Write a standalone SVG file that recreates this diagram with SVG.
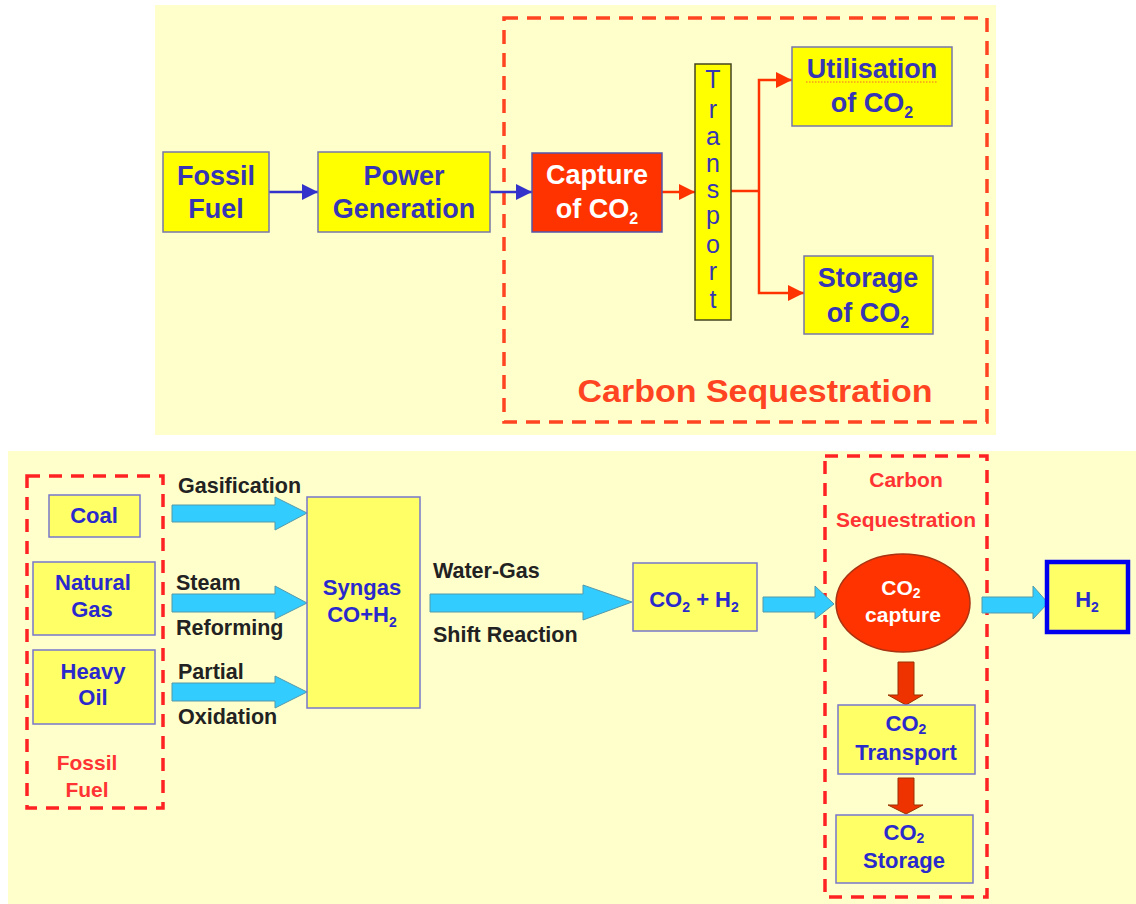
<svg xmlns="http://www.w3.org/2000/svg" width="1136" height="904" viewBox="0 0 1136 904">
<style>
.bg{fill:#ffffcc}
.ybox{fill:#ffff00;stroke:#7777aa;stroke-width:1.5}
.ybox2{fill:#ffff66;stroke:#7777cc;stroke-width:1.5}
.t{font-family:"Liberation Sans",Arial,sans-serif;font-weight:bold;text-anchor:middle}
.tb{fill:#3535b5;font-size:27px}
.tw{fill:#ffffff;font-size:27px}
.lb{fill:#2a2acc;font-size:22px}
.lw{fill:#ffffff;font-size:21px}
.lbl{font-family:"Liberation Sans",Arial,sans-serif;font-weight:bold;fill:#222222;font-size:21.5px}
.red{fill:#ff3333;font-size:21px}
.dash1{fill:none;stroke:#ff4422;stroke-width:3.5;stroke-dasharray:14,9}
.dash2{fill:none;stroke:#ff2222;stroke-width:3.5;stroke-dasharray:13,9}
.blu{fill:none;stroke:#3333cc;stroke-width:2.5}
.rl{fill:none;stroke:#ff3300;stroke-width:2.5}
.barr{fill:#33ccff;stroke:#5599aa;stroke-width:1}
.rarr{fill:#ee3300;stroke:#993300;stroke-width:1}
</style>
<defs>
<marker id="mb" viewBox="0 0 10 10" refX="10" refY="5" markerWidth="6.5" markerHeight="6.5" orient="auto" markerUnits="strokeWidth">
<path d="M0,0 L10,5 L0,10 z" fill="#3333cc"/>
</marker>
<marker id="mr" viewBox="0 0 10 10" refX="10" refY="5" markerWidth="6.5" markerHeight="6.5" orient="auto" markerUnits="strokeWidth">
<path d="M0,0 L10,5 L0,10 z" fill="#ff3300"/>
</marker>
</defs>

<!-- backgrounds -->
<rect class="bg" x="155" y="5" width="841" height="430"/>
<rect class="bg" x="8" y="451" width="1128" height="453"/>

<!-- group boxes -->
<g id="carbon-sequestration-top">
<rect class="dash1" x="504" y="18" width="483" height="404"/>
<text class="t" x="755" y="402" font-size="31" fill="#ff4422" textLength="355" lengthAdjust="spacingAndGlyphs">Carbon Sequestration</text>
</g>
<g id="fossil-fuel-group">
<rect class="dash2" x="27" y="476" width="136" height="332"/>
<text class="t red" x="87" y="770">Fossil</text>
<text class="t red" x="87" y="797">Fuel</text>
</g>
<g id="carbon-sequestration-bottom">
<rect class="dash2" x="825" y="456" width="162" height="441"/>
<text class="t red" x="906" y="487">Carbon</text>
<text class="t red" x="906" y="527">Sequestration</text>
</g>

<!-- connectors -->
<g id="connectors">
<line class="blu" x1="269" y1="192" x2="318" y2="192" marker-end="url(#mb)"/>
<line class="blu" x1="490" y1="192" x2="532" y2="192" marker-end="url(#mb)"/>
<line class="rl" x1="662" y1="192" x2="695" y2="192" marker-end="url(#mr)"/>
<polyline class="rl" points="731,191 759,191"/>
<polyline class="rl" points="759,191 759,80 792,80" marker-end="url(#mr)"/>
<polyline class="rl" points="759,191 759,293 804,293" marker-end="url(#mr)"/>
<polygon class="barr" points="172,505 275,505 275,497 307,513 275,530 275,522 172,522"/>
<polygon class="barr" points="172,594 275,594 275,586 307,603 275,619 275,612 172,612"/>
<polygon class="barr" points="172,683 275,683 275,676 307,692 275,708 275,701 172,701"/>
<polygon class="barr" points="430,594 583,594 583,585 632,602 583,620 583,612 430,612"/>
<polygon class="barr" points="763,597 815,597 815,586 834,604 815,619 815,612 763,612"/>
<polygon class="barr" points="982,597 1033,597 1033,586 1048,603 1033,619 1033,613 982,613"/>
<polygon class="rarr" points="898,662 914,662 914,695 923,695 906,705 888,695 898,695"/>
<polygon class="rarr" points="898,778 914,778 914,805 923,805 906,814 888,805 898,805"/>
<text class="lbl" x="178" y="493">Gasification</text>
<text class="lbl" x="176" y="590">Steam</text>
<text class="lbl" x="176" y="635">Reforming</text>
<text class="lbl" x="178" y="679">Partial</text>
<text class="lbl" x="178" y="724">Oxidation</text>
<text class="lbl" x="433" y="578">Water-Gas</text>
<text class="lbl" x="433" y="642">Shift Reaction</text>
</g>

<!-- top nodes -->
<g id="fossil-fuel">
<rect class="ybox" x="163" y="152" width="106" height="80"/>
<text class="t tb" x="216" y="185">Fossil</text>
<text class="t tb" x="216" y="218">Fuel</text>
</g>
<g id="power-generation">
<rect class="ybox" x="318" y="152" width="172" height="80"/>
<text class="t tb" x="404" y="185">Power</text>
<text class="t tb" x="404" y="218">Generation</text>
</g>
<g id="capture-co2">
<rect x="532" y="153" width="130" height="79" fill="#ff3300" stroke="#5555aa" stroke-width="1.5"/>
<text class="t tw" x="597" y="184">Capture</text>
<text class="t tw" x="597" y="218">of CO<tspan font-size="16" dy="6">2</tspan></text>
</g>
<g id="transport">
<rect x="695" y="64" width="36" height="256" fill="#ffff00" stroke="#444422" stroke-width="1.5"/>
<g font-family="Liberation Sans, Arial, sans-serif" font-size="25" fill="#3535b5" text-anchor="middle">
<text x="713" y="88">T</text>
<text x="713" y="118">r</text>
<text x="713" y="145">a</text>
<text x="713" y="172">n</text>
<text x="713" y="198">s</text>
<text x="713" y="224">p</text>
<text x="713" y="253">o</text>
<text x="713" y="280">r</text>
<text x="713" y="308">t</text>
</g>
</g>
<g id="utilisation-co2">
<rect class="ybox" x="792" y="47" width="160" height="79"/>
<text class="t tb" x="872" y="78">Utilisation</text>
<line x1="806" y1="82" x2="938" y2="82" stroke="#ee6633" stroke-width="1" stroke-dasharray="1.5,1.5"/>
<text class="t tb" x="872" y="112">of CO<tspan font-size="16" dy="6">2</tspan></text>
</g>
<g id="storage-co2">
<rect class="ybox" x="804" y="256" width="129" height="78"/>
<text class="t tb" x="868" y="287">Storage</text>
<text class="t tb" x="868" y="322">of CO<tspan font-size="16" dy="6">2</tspan></text>
</g>

<!-- bottom nodes -->
<g id="coal">
<rect class="ybox2" x="49" y="495" width="91" height="42"/>
<text class="t lb" x="94" y="523">Coal</text>
</g>
<g id="natural-gas">
<rect class="ybox2" x="33" y="562" width="122" height="73"/>
<text class="t lb" x="93" y="590">Natural</text>
<text class="t lb" x="92" y="617">Gas</text>
</g>
<g id="heavy-oil">
<rect class="ybox2" x="33" y="650" width="122" height="74"/>
<text class="t lb" x="93" y="679">Heavy</text>
<text class="t lb" x="93" y="705">Oil</text>
</g>
<g id="syngas">
<rect class="ybox2" x="307" y="497" width="113" height="211"/>
<text class="t lb" x="362" y="595">Syngas</text>
<text class="t lb" x="362" y="622">CO+H<tspan font-size="14" dy="5">2</tspan></text>
</g>
<g id="co2-h2">
<rect class="ybox2" x="633" y="563" width="124" height="68"/>
<text class="t lb" x="694" y="607">CO<tspan font-size="14" dy="5">2</tspan><tspan dy="-5"> + H</tspan><tspan font-size="14" dy="5">2</tspan></text>
</g>
<g id="co2-capture">
<ellipse cx="903" cy="603" rx="67" ry="49" fill="#ff3300" stroke="#aa3311" stroke-width="1.5"/>
<text class="t lw" x="901" y="595">CO<tspan font-size="14" dy="3">2</tspan></text>
<text class="t lw" x="903" y="622">capture</text>
</g>
<g id="h2">
<rect x="1047" y="562" width="81" height="70" fill="#ffff66" stroke="#0000ee" stroke-width="4.5"/>
<text class="t lb" x="1087" y="607">H<tspan font-size="14" dy="5">2</tspan></text>
</g>
<g id="co2-transport">
<rect class="ybox2" x="838" y="705" width="137" height="69"/>
<text class="t lb" x="906" y="731">CO<tspan font-size="14" dy="3">2</tspan></text>
<text class="t lb" x="906" y="760">Transport</text>
</g>
<g id="co2-storage">
<rect class="ybox2" x="836" y="815" width="137" height="68"/>
<text class="t lb" x="904" y="840">CO<tspan font-size="14" dy="3">2</tspan></text>
<text class="t lb" x="904" y="868">Storage</text>
</g>
</svg>
